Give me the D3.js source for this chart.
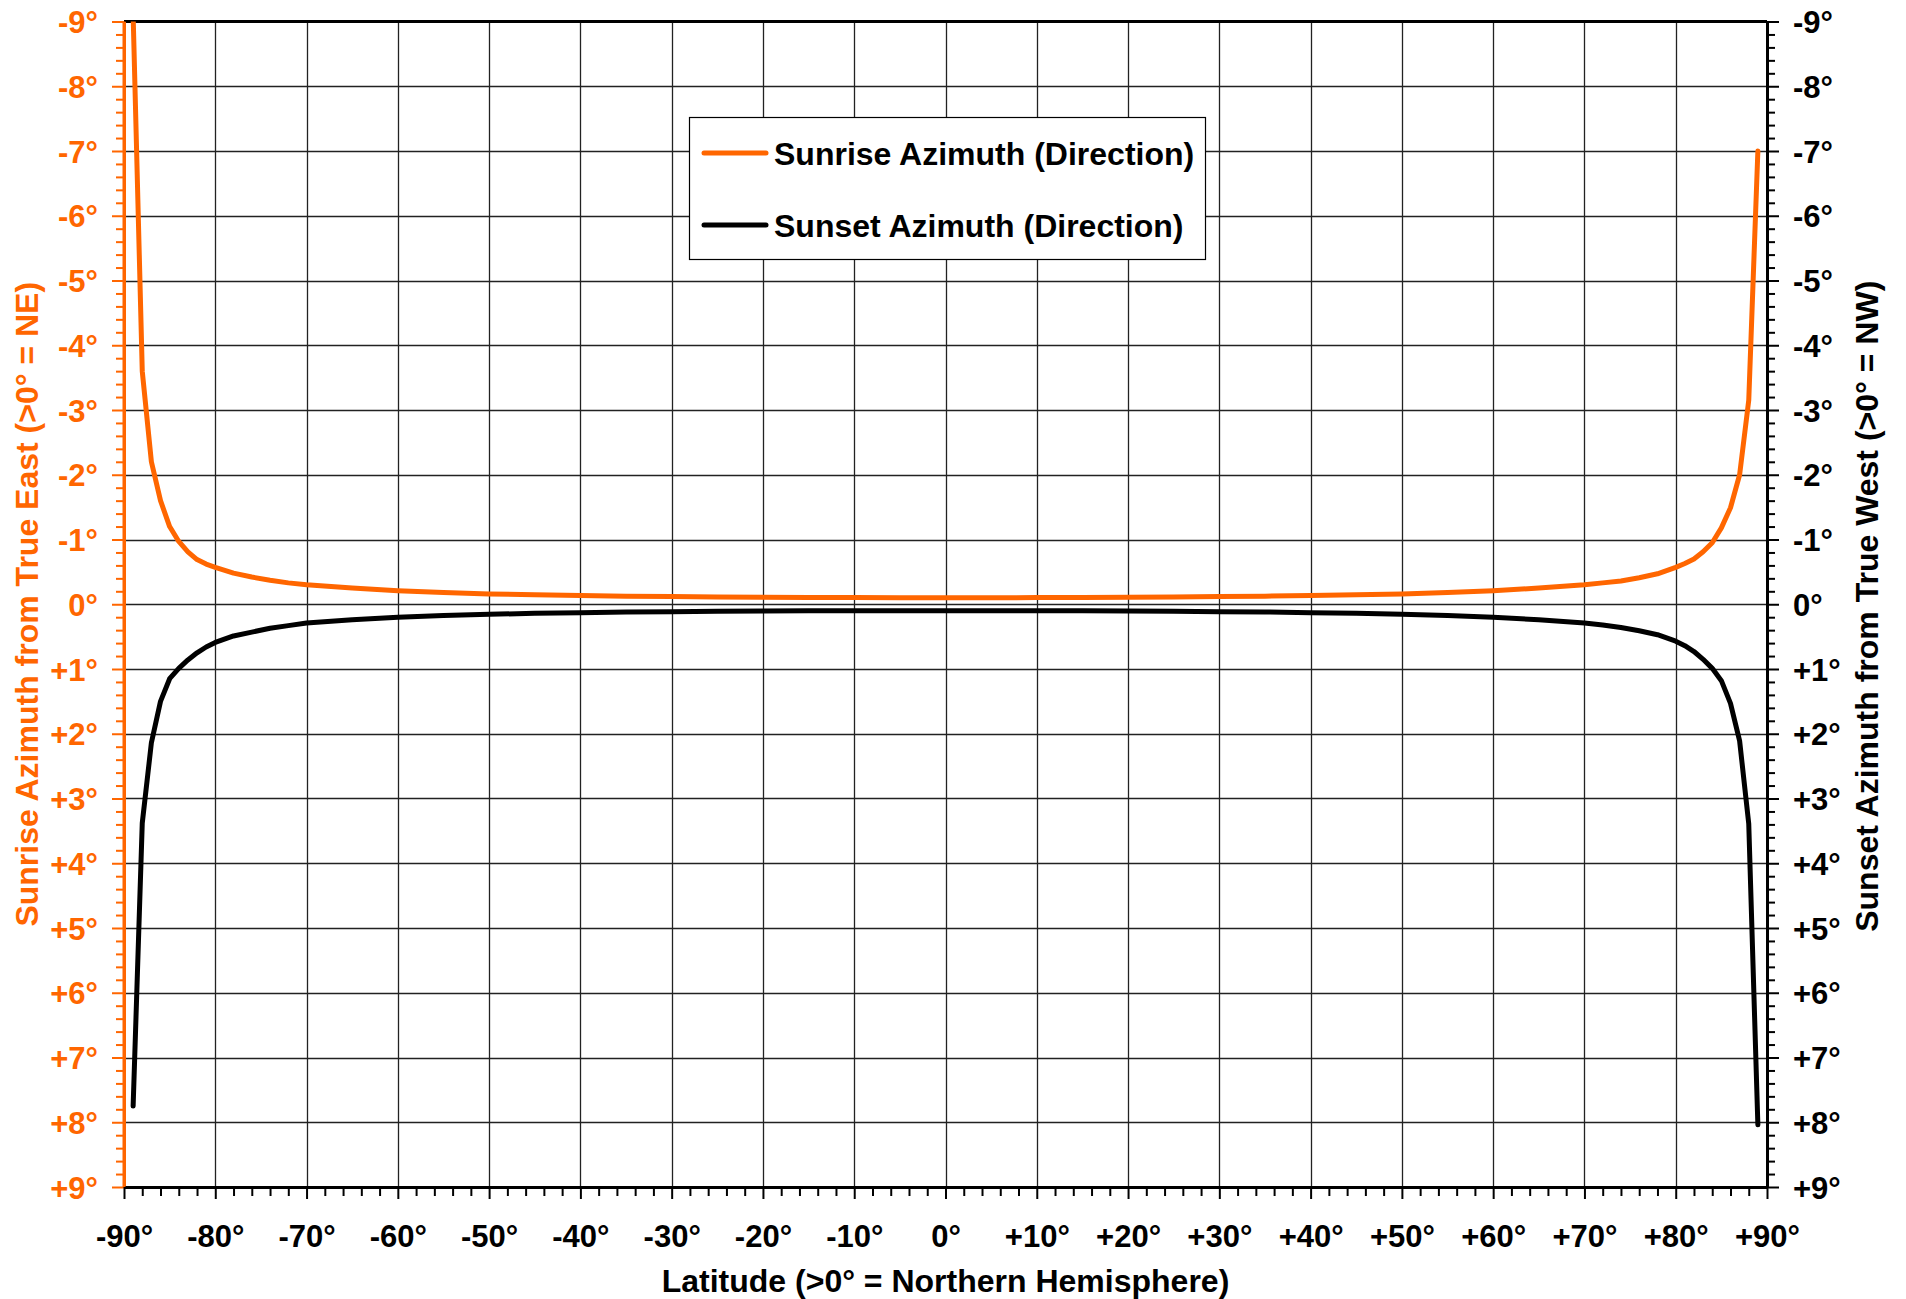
<!DOCTYPE html>
<html>
<head>
<meta charset="utf-8">
<script src="https://cdn.jsdelivr.net/npm/d3@7"></script>
<style>
  html, body { margin: 0; padding: 0; background: #fff; }
  svg text { font-family: Arial, 'Liberation Sans', Helvetica, sans-serif; font-weight: bold; }
</style>
</head>
<body>
<div id="chart"></div>
<script>
const latitudes = [-89, -88, -87, -86, -85, -84, -83, -82, -81, -80, -78, -76, -74, -72, -70,
  -65, -60, -55, -50, -45, -40, -35, -30, -25, -20, -15, -10, -5, 0,
  5, 10, 15, 20, 25, 30, 35, 40, 45, 50, 55, 60, 65,
  70, 72, 74, 76, 78, 80, 81, 82, 83, 84, 85, 86, 87, 88, 89]

const sunriseAzimuth = [-9.1, -3.6, -2.2, -1.6, -1.2, -0.97, -0.81, -0.69, -0.62, -0.57, -0.48, -0.42, -0.37, -0.33, -0.30,
  -0.25, -0.21, -0.18, -0.16, -0.145, -0.135, -0.125, -0.118, -0.112, -0.108, -0.105, -0.103, -0.101, -0.1,
  -0.101, -0.103, -0.105, -0.108, -0.112, -0.118, -0.125, -0.135, -0.145, -0.16, -0.18, -0.21, -0.25,
  -0.30, -0.33, -0.36, -0.41, -0.47, -0.57, -0.63, -0.70, -0.81, -0.95, -1.18, -1.49, -2.0, -3.15, -7.0]

const sunsetAzimuth = [7.75, 3.38, 2.14, 1.50, 1.15, 0.99, 0.86, 0.75, 0.66, 0.59, 0.49, 0.43, 0.37, 0.33, 0.29,
  0.24, 0.20, 0.175, 0.155, 0.14, 0.13, 0.12, 0.115, 0.11, 0.105, 0.102, 0.10, 0.10, 0.10,
  0.10, 0.10, 0.102, 0.105, 0.11, 0.115, 0.12, 0.13, 0.14, 0.155, 0.175, 0.20, 0.24,
  0.29, 0.32, 0.36, 0.41, 0.47, 0.57, 0.64, 0.73, 0.85, 0.99, 1.18, 1.53, 2.11, 3.39, 8.04]

const xTickValues = [-90, -80, -70, -60, -50, -40, -30, -20, -10, 0, 10, 20, 30, 40, 50, 60, 70, 80, 90]
const xTickLabels = ['-90°', '-80°', '-70°', '-60°', '-50°', '-40°', '-30°', '-20°', '-10°', '0°',
  '+10°', '+20°', '+30°', '+40°', '+50°', '+60°', '+70°', '+80°', '+90°']
const yTickValues = [-9, -8, -7, -6, -5, -4, -3, -2, -1, 0, 1, 2, 3, 4, 5, 6, 7, 8, 9]
const yTickLabels = ['-9°', '-8°', '-7°', '-6°', '-5°', '-4°', '-3°', '-2°', '-1°', '0°',
  '+1°', '+2°', '+3°', '+4°', '+5°', '+6°', '+7°', '+8°', '+9°']

const seriesNames = ['Sunrise Azimuth (Direction)', 'Sunset Azimuth (Direction)']
const xTitle = 'Latitude (>0° = Northern Hemisphere)'
const yLeftTitle = 'Sunrise Azimuth from True East (>0° = NE)'
const yRightTitle = 'Sunset Azimuth from True West (>0° = NW)'

const ORANGE = '#ff6600'
const FONT = "Arial, 'Liberation Sans', Helvetica, sans-serif"
const W = 1906
const H = 1299
const plot = { left: 124, top: 21.5, right: 1767, bottom: 1187 }

const svg = d3.select('#chart')
  .append('svg')
  .attr('width', W)
  .attr('height', H)
  .style('display', 'block')

const x = d3.scaleLinear().domain([-90, 90]).range([plot.left, plot.right])
const y = d3.scaleLinear().domain([-9, 9]).range([plot.top, plot.bottom])

// grid
const grid = svg.append('g').attr('class', 'grid')
grid.selectAll('.vgrid')
  .data(xTickValues.slice(1, -1))
  .enter()
  .append('line')
  .attr('x1', d => Math.round(x(d)) + 0.5)
  .attr('x2', d => Math.round(x(d)) + 0.5)
  .attr('y1', plot.top)
  .attr('y2', plot.bottom)
  .style('stroke', '#222')
  .style('stroke-width', 1.3)

grid.selectAll('.hgrid')
  .data(yTickValues.slice(1, -1))
  .enter()
  .append('line')
  .attr('x1', plot.left)
  .attr('x2', plot.right)
  .attr('y1', d => Math.round(y(d)) + 0.5)
  .attr('y2', d => Math.round(y(d)) + 0.5)
  .style('stroke', '#222')
  .style('stroke-width', 1.3)

// top frame line
svg.append('line')
  .attr('x1', plot.left)
  .attr('x2', plot.right)
  .attr('y1', plot.top)
  .attr('y2', plot.top)
  .style('stroke', '#000')
  .style('stroke-width', 3)

const yMinor = d3.range(-90, 91, 2).map(v => v / 10).filter(v => !yTickValues.includes(v))
const xMinor = d3.range(-90, 91, 2).filter(v => !xTickValues.includes(v))

function styleAxis(g, color, fontSize) {
  g.select('.domain').style('stroke', color).style('stroke-width', 3)
  g.selectAll('.tick line').style('stroke', color).style('stroke-width', 2)
  g.selectAll('.tick text')
    .style('fill', color)
    .style('font-size', fontSize + 'px')
    .style('font-family', FONT)
    .style('font-weight', 'bold')
}

// left axis (orange)
const leftMinor = svg.append('g')
  .attr('transform', `translate(${plot.left},0)`)
  .call(d3.axisLeft(y).tickValues(yMinor).tickSize(8).tickSizeOuter(0).tickFormat(''))
styleAxis(leftMinor, ORANGE, 31)

const leftAxis = svg.append('g')
  .attr('transform', `translate(${plot.left},0)`)
  .call(d3.axisLeft(y).tickValues(yTickValues).tickSize(12).tickSizeOuter(0).tickPadding(14)
    .tickFormat((d, i) => yTickLabels[i]))
styleAxis(leftAxis, ORANGE, 31)
leftAxis.selectAll('.tick text').attr('dy', '0.36em')

// right axis (black)
const rightMinor = svg.append('g')
  .attr('transform', `translate(${plot.right},0)`)
  .call(d3.axisRight(y).tickValues(yMinor).tickSize(8).tickSizeOuter(0).tickFormat(''))
styleAxis(rightMinor, '#000', 31)

const rightAxis = svg.append('g')
  .attr('transform', `translate(${plot.right},0)`)
  .call(d3.axisRight(y).tickValues(yTickValues).tickSize(12).tickSizeOuter(0).tickPadding(14)
    .tickFormat((d, i) => yTickLabels[i]))
styleAxis(rightAxis, '#000', 31)
rightAxis.selectAll('.tick text').attr('dy', '0.36em')

// bottom axis
const bottomMinor = svg.append('g')
  .attr('transform', `translate(0,${plot.bottom})`)
  .call(d3.axisBottom(x).tickValues(xMinor).tickSize(9).tickSizeOuter(0).tickFormat(''))
styleAxis(bottomMinor, '#000', 31)

const bottomAxis = svg.append('g')
  .attr('transform', `translate(0,${plot.bottom})`)
  .call(d3.axisBottom(x).tickValues(xTickValues).tickSize(12).tickSizeOuter(0)
    .tickFormat((d, i) => xTickLabels[i]))
styleAxis(bottomAxis, '#000', 31)
bottomAxis.selectAll('.tick text').attr('y', 60).attr('dy', 0)

// re-draw the left spine over the bottom one at the corner
svg.append('line')
  .attr('x1', plot.left)
  .attr('x2', plot.left)
  .attr('y1', plot.top)
  .attr('y2', plot.bottom)
  .style('stroke', ORANGE)
  .style('stroke-width', 3)

// titles
svg.append('text')
  .attr('x', (plot.left + plot.right) / 2)
  .attr('y', 1292)
  .attr('text-anchor', 'middle')
  .style('font-size', '32px')
  .style('fill', '#000')
  .text(xTitle)

svg.append('text')
  .attr('transform', `translate(38,${(plot.top + plot.bottom) / 2}) rotate(-90)`)
  .attr('text-anchor', 'middle')
  .style('font-size', '32px')
  .style('fill', ORANGE)
  .text(yLeftTitle)

svg.append('text')
  .attr('transform', `translate(1878,${(plot.top + plot.bottom) / 2 + 2}) rotate(-90)`)
  .attr('text-anchor', 'middle')
  .style('font-size', '32px')
  .style('fill', '#000')
  .text(yRightTitle)

// series
svg.append('clipPath')
  .attr('id', 'plot-clip')
  .append('rect')
  .attr('x', plot.left)
  .attr('y', plot.top)
  .attr('width', plot.right - plot.left)
  .attr('height', plot.bottom - plot.top)

const line = d3.line()
  .x(d => x(d[0]))
  .y(d => y(d[1]))

const series = [
  { name: seriesNames[0], values: sunriseAzimuth, color: ORANGE },
  { name: seriesNames[1], values: sunsetAzimuth, color: '#000' }
]

svg.append('g')
  .attr('clip-path', 'url(#plot-clip)')
  .selectAll('path')
  .data(series)
  .enter()
  .append('path')
  .attr('d', s => line(latitudes.map((lat, i) => [lat, s.values[i]])))
  .style('fill', 'none')
  .style('stroke', s => s.color)
  .style('stroke-width', 5)
  .style('stroke-linejoin', 'round')
  .style('stroke-linecap', 'round')

// legend
const legend = svg.append('g').attr('class', 'legend')
legend.append('rect')
  .attr('x', 689.5)
  .attr('y', 117.5)
  .attr('width', 516)
  .attr('height', 142)
  .style('fill', '#fff')
  .style('stroke', '#000')
  .style('stroke-width', 1.2)

const items = legend.selectAll('.item')
  .data(series)
  .enter()
  .append('g')
  .attr('transform', (d, i) => `translate(0,${153 + i * 72})`)

items.append('line')
  .attr('x1', 704)
  .attr('x2', 766)
  .style('stroke', d => d.color)
  .style('stroke-width', 5)
  .style('stroke-linecap', 'round')

items.append('text')
  .attr('x', 774)
  .attr('y', 12)
  .style('font-size', '32px')
  .style('fill', '#000')
  .text(d => d.name)
</script>
</body>
</html>
